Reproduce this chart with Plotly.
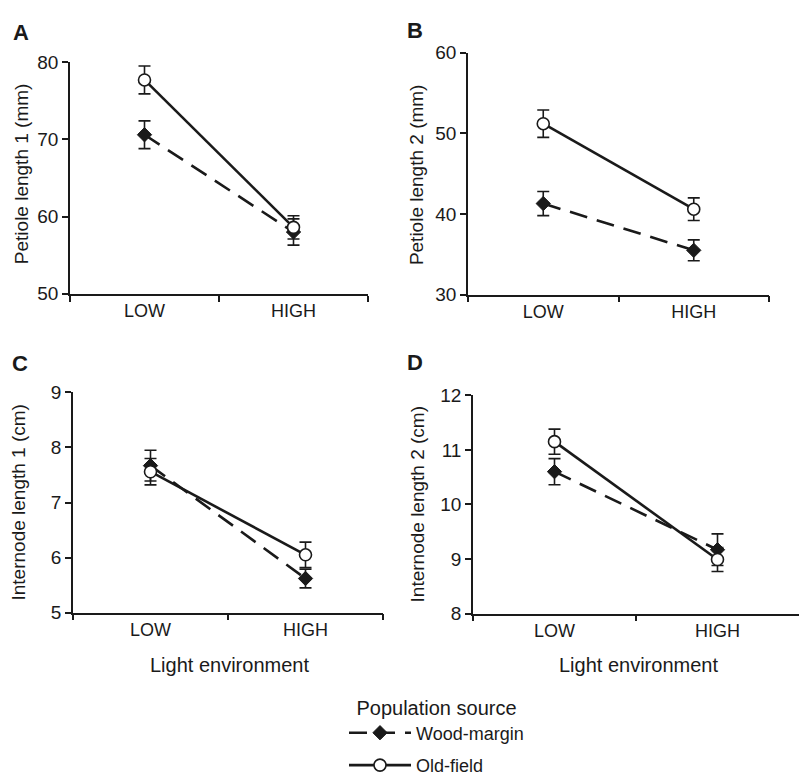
import plotly.graph_objects as go

W, H = 799, 784

categories = ["LOW", "HIGH"]

# Panel A: Petiole length 1 (mm)
a_wood = [70.6, 58.0]
a_wood_se = [1.8, 1.7]
a_old = [77.7, 58.6]
a_old_se = [1.8, 1.5]

# Panel B: Petiole length 2 (mm)
b_wood = [41.3, 35.5]
b_wood_se = [1.5, 1.3]
b_old = [51.2, 40.6]
b_old_se = [1.7, 1.4]

# Panel C: Internode length 1 (cm)
c_wood = [7.67, 5.62]
c_wood_se = [0.28, 0.17]
c_old = [7.56, 6.05]
c_old_se = [0.24, 0.23]

# Panel D: Internode length 2 (cm)
d_wood = [10.60, 9.17]
d_wood_se = [0.24, 0.29]
d_old = [11.15, 8.99]
d_old_se = [0.23, 0.22]

panel_letters = ["A", "B", "C", "D"]
y_titles = ["Petiole length 1 (mm)", "Petiole length 2 (mm)",
            "Internode length 1 (cm)", "Internode length 2 (cm)"]
y_ranges = [[50, 80], [30, 60], [5, 9], [8, 12]]
y_dticks = [10, 10, 1, 1]
x_title = "Light environment"
legend_title = "Population source"
series_names = ["Wood-margin", "Old-field"]

FONT = "Liberation Sans, Arial, sans-serif"


def px(x):
    return x / W


def py(y):
    return 1 - y / H


# plot-area pixel boxes: (left, right, top, bottom)
boxes = [(70, 368, 55, 299), (468, 769, 45, 300),
         (73, 383, 403, 635), (473, 799, 406, 636)]

data = [(a_wood, a_wood_se, a_old, a_old_se),
        (b_wood, b_wood_se, b_old, b_old_se),
        (c_wood, c_wood_se, c_old, c_old_se),
        (d_wood, d_wood_se, d_old, d_old_se)]

fig = go.Figure()

for i, (wood, wood_se, old, old_se) in enumerate(data):
    k = "" if i == 0 else str(i + 1)
    xa, ya = "x" + k, "y" + k
    fig.add_trace(go.Scatter(
        x=categories, y=wood, xaxis=xa, yaxis=ya,
        mode="lines+markers", name=series_names[0],
        legendgroup="wood", showlegend=(i == 0),
        line=dict(color="#1a1a1a", width=2.6, dash="18px,10px"),
        marker=dict(symbol="diamond", size=11, color="#1a1a1a",
                    line=dict(color="#1a1a1a", width=1)),
        error_y=dict(type="data", array=wood_se, visible=True,
                     color="#1a1a1a", thickness=1.6, width=6),
    ))
    fig.add_trace(go.Scatter(
        x=categories, y=old, xaxis=xa, yaxis=ya,
        mode="lines+markers", name=series_names[1],
        legendgroup="old", showlegend=(i == 0),
        line=dict(color="#1a1a1a", width=2.6),
        marker=dict(symbol="circle", size=12, color="white",
                    line=dict(color="#1a1a1a", width=1.6)),
        error_y=dict(type="data", array=old_se, visible=True,
                     color="#1a1a1a", thickness=1.6, width=6),
    ))

layout = dict(
    width=W, height=H,
    margin=dict(l=0, r=0, t=0, b=0),
    paper_bgcolor="white", plot_bgcolor="white",
    font=dict(family=FONT, size=18, color="#1a1a1a"),
    legend=dict(
        title=dict(text=legend_title, side="top center",
                   font=dict(size=20)),
        x=px(344), xanchor="left", y=py(715), yanchor="top",
        font=dict(size=18), tracegroupgap=6, itemwidth=62,
        bgcolor="rgba(0,0,0,0)",
    ),
)

annotations = []
for i, (l, r, t, b) in enumerate(boxes):
    k = "" if i == 0 else str(i + 1)
    layout["xaxis" + k] = dict(
        domain=[px(l), min(1.0, px(r))],
        anchor="y" + k, type="category",
        categoryorder="array", categoryarray=categories,
        range=[-0.5, 1.5], tickson="boundaries",
        showline=True, linecolor="#1a1a1a", linewidth=1.6,
        ticks="outside", ticklen=6, tickwidth=1.6, tickcolor="#1a1a1a",
        showgrid=False, zeroline=False, fixedrange=True,
        tickfont=dict(size=18),
    )
    layout["yaxis" + k] = dict(
        domain=[py(b), py(t)],
        anchor="x" + k, range=y_ranges[i], dtick=y_dticks[i],
        showline=True, linecolor="#1a1a1a", linewidth=1.6,
        ticks="outside", ticklen=6, tickwidth=1.6, tickcolor="#1a1a1a",
        showgrid=False, zeroline=False, fixedrange=True,
        tickfont=dict(size=19),
    )

letter_pos = [(21, 24), (415, 22), (20, 372), (415, 371)]
ytitle_pos = [(21, 173), (416, 174), (19, 519), (417, 521)]
for i in range(4):
    lx, ly = letter_pos[i]
    annotations.append(dict(
        text="<b>" + panel_letters[i] + "</b>", x=px(lx), y=py(ly),
        xref="paper", yref="paper", showarrow=False,
        xanchor="center", yanchor="middle",
        font=dict(size=22, family=FONT)))
    tx, ty = ytitle_pos[i]
    annotations.append(dict(
        text=y_titles[i], x=px(tx), y=py(ty), textangle=-90,
        xref="paper", yref="paper", showarrow=False,
        xanchor="center", yanchor="middle",
        font=dict(size=19, family=FONT)))

for cx in (229, 638):
    annotations.append(dict(
        text=x_title, x=px(cx), y=py(690),
        xref="paper", yref="paper", showarrow=False,
        xanchor="center", yanchor="middle",
        font=dict(size=20, family=FONT)))

layout["annotations"] = annotations
fig.update_layout(**layout)

fig.write_html("out.html",
               config={"displayModeBar": False},
               post_script="document.body.style.margin='0px';")
